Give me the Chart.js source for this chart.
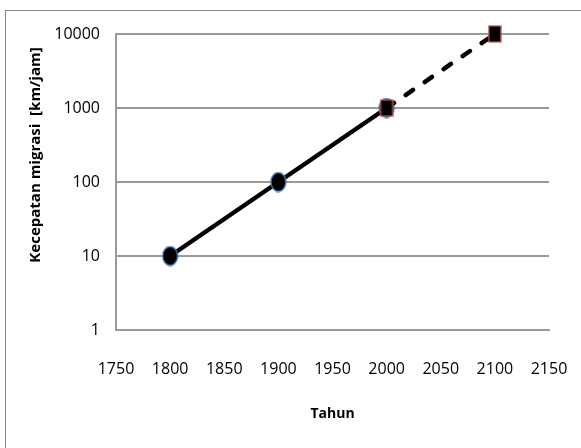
<!DOCTYPE html>
<html>
<head>
<meta charset="utf-8">
<script src="https://cdn.jsdelivr.net/npm/chart.js@4/dist/chart.umd.min.js"></script>
<style>
  html, body { margin: 0; padding: 0; background: #ffffff; overflow: hidden; }
  #frame { position: absolute; left: 0; top: 0; width: 581px; height: 448px; }
  #box { position: absolute; left: 5px; top: 10px; width: 600px; height: 460px;
         border-left: 1.5px solid #8a8a8a; border-top: 1.5px solid #8a8a8a; box-sizing: border-box; }
  canvas { position: absolute; left: 0; top: 0; }
</style>
</head>
<body>
<div id="frame">
  <div id="box"></div>
  <canvas id="c" width="581" height="448"></canvas>
</div>
<script>
// Measured migration speed (km/jam) by year
const years = [1800, 1900, 2000];
const speeds = [10, 100, 1000];
// Projected continuation
const projYears = [2000, 2100];
const projSpeeds = [1000, 10000];
// Axis ticks
const xTicks = [1750, 1800, 1850, 1900, 1950, 2000, 2050, 2100, 2150];
const yTicks = [1, 10, 100, 1000, 10000];
const xTitle = 'Tahun';
const yTitle = 'Kecepatan migrasi  [km/jam]';

// Marker shapes: a black ellipse with blue rim, and a black box with red rim
function ellipseMarker(w, h) {
  const cv = document.createElement('canvas');
  cv.width = w + 2; cv.height = h + 2;
  const g = cv.getContext('2d');
  g.beginPath();
  g.ellipse(cv.width / 2, cv.height / 2, w / 2, h / 2, 0, 0, Math.PI * 2);
  g.fillStyle = '#000000';
  g.fill();
  g.lineWidth = 1.3;
  g.strokeStyle = '#4a7ebb';
  g.stroke();
  return cv;
}
function boxMarker(w, h) {
  const cv = document.createElement('canvas');
  cv.width = w + 2; cv.height = h + 2;
  const g = cv.getContext('2d');
  g.fillStyle = '#000000';
  g.fillRect(1, 1, w, h);
  g.lineWidth = 1.3;
  g.strokeStyle = '#c0504d';
  g.strokeRect(1, 1, w, h);
  return cv;
}
const dotStyle = ellipseMarker(15, 19);
const boxStyle = boxMarker(12, 16);

const axisTitles = {
  id: 'axisTitles',
  afterDraw(chart) {
    const ctx = chart.ctx;
    ctx.save();
    ctx.fillStyle = '#000000';
    ctx.textAlign = 'center';
    ctx.textBaseline = 'middle';
    ctx.font = 'bold 14px "Open Sans"';
    ctx.fillText(xTitle, (chart.chartArea.left + chart.chartArea.right) / 2, 414);
    ctx.font = 'bold 15px "Open Sans"';
    ctx.translate(36, 155);
    ctx.rotate(-Math.PI / 2);
    ctx.fillText(yTitle, 0, 0);
    ctx.restore();
  }
};

new Chart(document.getElementById('c'), {
  type: 'line',
  data: {
    datasets: [
      {
        data: projYears.map((x, i) => ({ x, y: projSpeeds[i] })),
        borderColor: '#000000',
        borderWidth: 4.5,
        borderDash: [9, 14],
        borderCapStyle: 'round',
        pointStyle: boxStyle,
        pointRadius: 8,
        clip: false,
        order: 0
      },
      {
        data: years.map((x, i) => ({ x, y: speeds[i] })),
        borderColor: '#000000',
        borderWidth: 4.5,
        pointStyle: dotStyle,
        pointRadius: 9,
        clip: false,
        order: 1
      }
    ]
  },
  options: {
    responsive: false,
    animation: false,
    events: [],
    layout: { padding: { left: 0, top: 34, right: 32, bottom: 0 } },
    plugins: { legend: { display: false }, tooltip: { enabled: false } },
    scales: {
      x: {
        type: 'linear',
        min: 1750,
        max: 2150,
        afterBuildTicks: s => { s.ticks = xTicks.map(v => ({ value: v })); },
        afterFit: s => { s.height = 118; s.paddingLeft = 0; s.paddingRight = 0; },
        grid: { display: false, drawTicks: false },
        border: { display: true, color: '#9a9a9a', width: 2 },
        ticks: {
          color: '#000000',
          font: { family: 'Open Sans', size: 16 },
          padding: 30,
          maxRotation: 0,
          callback: v => String(v)
        }
      },
      y: {
        type: 'logarithmic',
        min: 1,
        max: 10000,
        afterBuildTicks: s => { s.ticks = yTicks.map(v => ({ value: v })); },
        afterFit: s => { s.width = 116; s.paddingTop = 0; s.paddingBottom = 0; },
        grid: { color: '#9a9a9a', lineWidth: 2, drawTicks: false },
        border: { display: true, color: '#9a9a9a', width: 2 },
        ticks: {
          color: '#000000',
          font: { family: 'Open Sans', size: 16 },
          padding: 16,
          callback: v => String(v)
        }
      }
    }
  },
  plugins: [axisTitles]
});
</script>
</body>
</html>
